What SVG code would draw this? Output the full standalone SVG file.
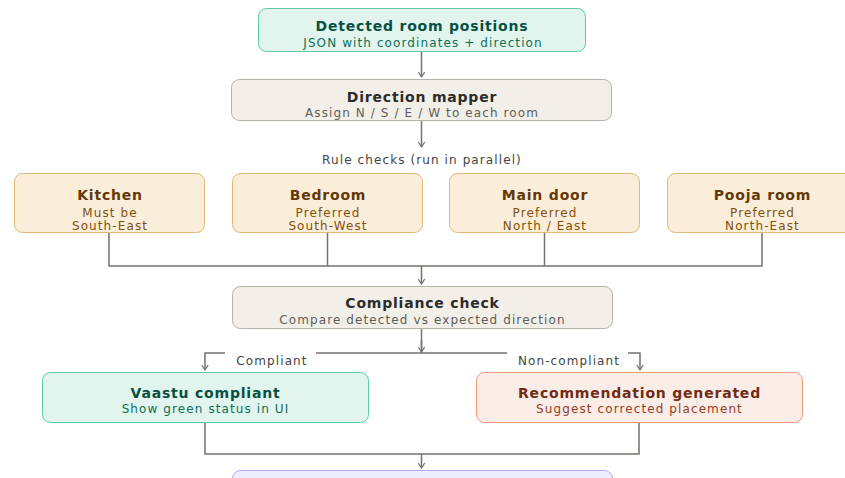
<svg xmlns="http://www.w3.org/2000/svg" width="845" height="478" viewBox="0 0 845 478">
<style>
text{font-family:"DejaVu Sans","Noto Sans",sans-serif;text-anchor:middle}
.t{font-size:14px;font-weight:bold;letter-spacing:0.8px}
.s{font-size:12px;letter-spacing:1.1px}
.l{font-size:12px;fill:#444441;letter-spacing:1.1px}
.green rect{fill:#e1f5ee;stroke:#5dcaa5}
.green .t{fill:#085041}.green .s{fill:#0f6e56}
.gray rect{fill:#f1efe8;stroke:#b4b2a9}
.gray .t{fill:#2c2c2a}.gray .s{fill:#5f5e5a}
.amber rect{fill:#faeeda;stroke:#e0b878}
.amber .t{fill:#633806}.amber .s{fill:#854f0b}
.coral rect{fill:#faece7;stroke:#f0997b}
.coral .t{fill:#712b13}.coral .s{fill:#993c1d}
.purple rect{fill:#eeedfe;stroke:#afa9ec}
rect{stroke-width:1}
.c path{fill:none;stroke:#73726c;stroke-width:1.5}
</style>
<defs>
<marker id="a" viewBox="0 0 10 10" refX="8" refY="5" markerWidth="8" markerHeight="8" orient="auto-start-reverse" markerUnits="userSpaceOnUse">
<path d="M2 1L8 5L2 9" fill="none" stroke="#73726c" stroke-width="1.5"/>
</marker>
</defs>
<g class="c" id="connectors">
<path d="M421.5 52V77" marker-end="url(#a)"/>
<path d="M421.5 121V147" marker-end="url(#a)"/>
<path d="M109 233V266H762V233"/>
<path d="M327.5 233V266"/>
<path d="M544.5 233V266"/>
<path d="M421.5 266V284" marker-end="url(#a)"/>
<path d="M421.5 329V353"/>
<path d="M421.5 340V352" marker-end="url(#a)"/>
<path d="M225 353H205V370" marker-end="url(#a)"/>
<path d="M316 353H507"/>
<path d="M628 353H640V370" marker-end="url(#a)"/>
<path d="M205 423V454H639V423"/>
<path d="M421.5 454V468" marker-end="url(#a)"/>
</g>
<text class="l" x="422" y="164">Rule checks (run in parallel)</text>
<text class="l" x="272" y="365">Compliant</text>
<text class="l" x="569" y="365">Non-compliant</text>
<g id="detected" class="green">
<rect x="258.5" y="8.5" width="327" height="43" rx="8"/>
<text class="t" x="422" y="31">Detected room positions</text>
<text class="s" x="423" y="47">JSON with coordinates + direction</text>
</g>
<g id="mapper" class="gray">
<rect x="231.5" y="79.5" width="380" height="41" rx="8"/>
<text class="t" x="422" y="102">Direction mapper</text>
<text class="s" x="422" y="117">Assign N / S / E / W to each room</text>
</g>
<g id="kitchen" class="amber">
<rect x="14.5" y="173.5" width="190" height="59" rx="8"/>
<text class="t" x="110" y="200">Kitchen</text>
<text class="s" x="110" y="217">Must be</text>
<text class="s" x="110" y="230">South-East</text>
</g>
<g id="bedroom" class="amber">
<rect x="232.5" y="173.5" width="190" height="59" rx="8"/>
<text class="t" x="328" y="200">Bedroom</text>
<text class="s" x="328" y="217">Preferred</text>
<text class="s" x="328" y="230">South-West</text>
</g>
<g id="maindoor" class="amber">
<rect x="449.5" y="173.5" width="190" height="59" rx="8"/>
<text class="t" x="545" y="200">Main door</text>
<text class="s" x="545" y="217">Preferred</text>
<text class="s" x="545" y="230">North / East</text>
</g>
<g id="pooja" class="amber">
<rect x="667.5" y="173.5" width="190" height="59" rx="8"/>
<text class="t" x="762.5" y="200">Pooja room</text>
<text class="s" x="762.5" y="217">Preferred</text>
<text class="s" x="762.5" y="230">North-East</text>
</g>
<g id="compliance" class="gray">
<rect x="232.5" y="286.5" width="380" height="42" rx="8"/>
<text class="t" x="422.5" y="308">Compliance check</text>
<text class="s" x="422.5" y="324">Compare detected vs expected direction</text>
</g>
<g id="vaastu" class="green">
<rect x="42.5" y="372.5" width="326" height="50" rx="8"/>
<text class="t" x="205.5" y="398">Vaastu compliant</text>
<text class="s" x="205.5" y="413">Show green status in UI</text>
</g>
<g id="recommendation" class="coral">
<rect x="476.5" y="372.5" width="326" height="50" rx="8"/>
<text class="t" x="639.5" y="398">Recommendation generated</text>
<text class="s" x="639.5" y="413">Suggest corrected placement</text>
</g>
<g id="final" class="purple">
<rect x="232.5" y="470.5" width="380" height="40" rx="8"/>
</g>
</svg>
